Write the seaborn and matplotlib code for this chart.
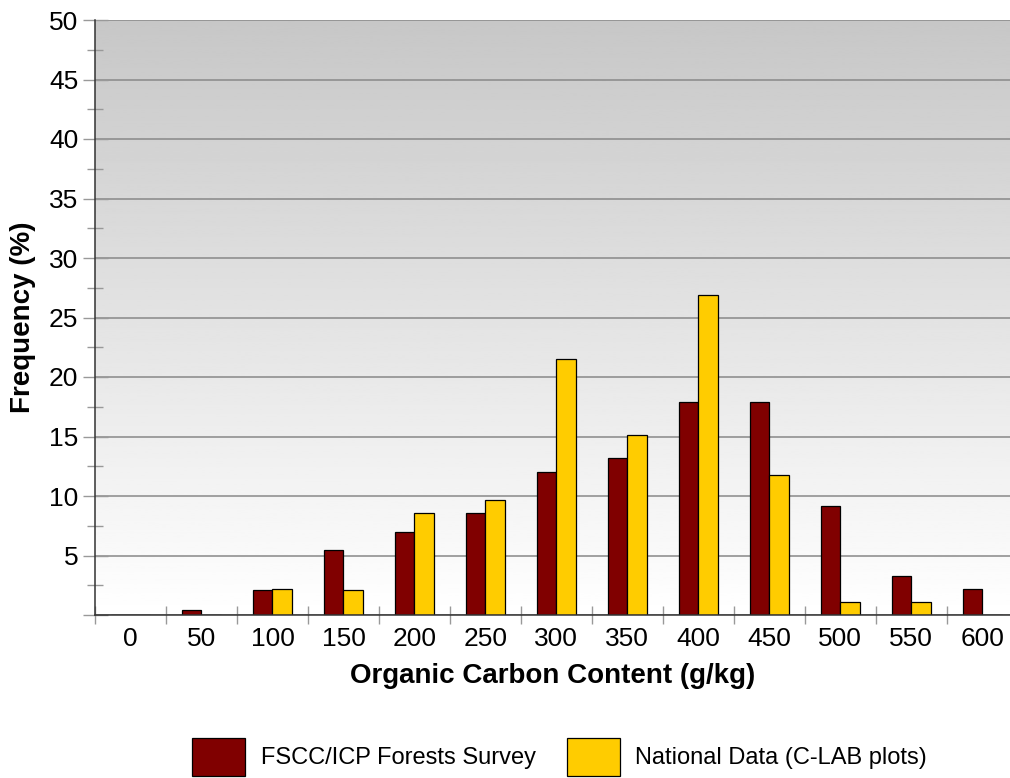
import matplotlib
matplotlib.use('Agg')
import matplotlib.pyplot as plt
from matplotlib.patches import Patch
import numpy as np
import pandas as pd
import seaborn as sns

# %%
bins = ['0', '50', '100', '150', '200', '250', '300', '350', '400', '450', '500', '550', '600']
fscc = [0, 0.4, 2.1, 5.5, 7.0, 8.6, 12.0, 13.2, 17.9, 17.9, 9.2, 3.3, 2.2]
national = [0, 0, 2.2, 2.1, 8.6, 9.7, 21.5, 15.1, 26.9, 11.8, 1.1, 1.1, 0]
series_names = ['FSCC/ICP Forests Survey', 'National Data (C-LAB plots)']
series_colors = ['#800000', '#FFCC00']

df = pd.DataFrame({
    'bin': bins * 2,
    'freq': fscc + national,
    'source': [series_names[0]] * len(bins) + [series_names[1]] * len(bins),
})

# %%
sns.set_style('white', {'text.color': 'black', 'axes.labelcolor': 'black',
                        'xtick.color': 'black', 'ytick.color': 'black'})
plt.rcParams['font.family'] = ['Liberation Sans', 'DejaVu Sans']

fig = plt.figure(figsize=(10.1, 7.78), dpi=100)
ax = fig.add_axes([95 / 1010, 163 / 778, 915 / 1010, 595 / 778])

# grey-to-white background gradient
grad = np.linspace(0.78, 1.0, 256).reshape(-1, 1)
ax.imshow(grad, extent=[0, 1, 0, 1], transform=ax.transAxes, aspect='auto',
          cmap='gray', vmin=0, vmax=1, zorder=0, origin='upper')

sns.barplot(data=df, x='bin', y='freq', hue='source', order=bins, hue_order=series_names,
            palette=series_colors, width=0.545, saturation=1, edgecolor='black',
            linewidth=0.9, legend=False, ax=ax, zorder=2)

ax.set_xlim(-0.5, 12.39)
ax.set_ylim(0, 50)

ax.set_yticks(np.arange(0, 51, 5))
ax.set_yticklabels([''] + [str(v) for v in range(5, 51, 5)])
ax.set_yticks(np.arange(2.5, 50, 5), minor=True)
ax.tick_params(axis='y', which='major', direction='inout', length=18, width=1,
               color='#999999', labelcolor='black', labelsize=19, pad=3, left=True)
ax.tick_params(axis='y', which='minor', direction='inout', length=12, width=1,
               color='#999999', left=True)

ax.set_xticks(np.arange(len(bins)))
ax.set_xticklabels(bins)
ax.set_xticks(np.arange(-0.5, 12, 1), minor=True)
ax.tick_params(axis='x', which='major', length=0, labelsize=19, labelcolor='black', pad=9)
ax.tick_params(axis='x', which='minor', direction='inout', length=13, width=1,
               color='#999999', bottom=True)

ax.yaxis.grid(True, color='#888888', lw=1.1)
ax.xaxis.grid(False)
ax.set_axisbelow(True)
for s in ['top', 'right']:
    ax.spines[s].set_visible(False)
for s in ['left', 'bottom']:
    ax.spines[s].set_color('#333333')
    ax.spines[s].set_linewidth(1.1)
    ax.spines[s].set_zorder(3)

ax.set_xlabel('Organic Carbon Content (g/kg)', fontsize=20, fontweight='bold',
              color='black', labelpad=8)
ax.set_ylabel('Frequency (%)', fontsize=20, fontweight='bold', color='black', labelpad=9)

handles = [Patch(facecolor=c, edgecolor='black', linewidth=0.9) for c in series_colors]
fig.legend(handles, series_names, loc='center', bbox_to_anchor=(0.554, 1 - 757 / 778),
           ncol=2, frameon=False, fontsize=17, handlelength=2.25, handleheight=2.1,
           handletextpad=0.65, columnspacing=1.3, borderpad=0, labelcolor='black')

fig.savefig('out.png', dpi=100)
